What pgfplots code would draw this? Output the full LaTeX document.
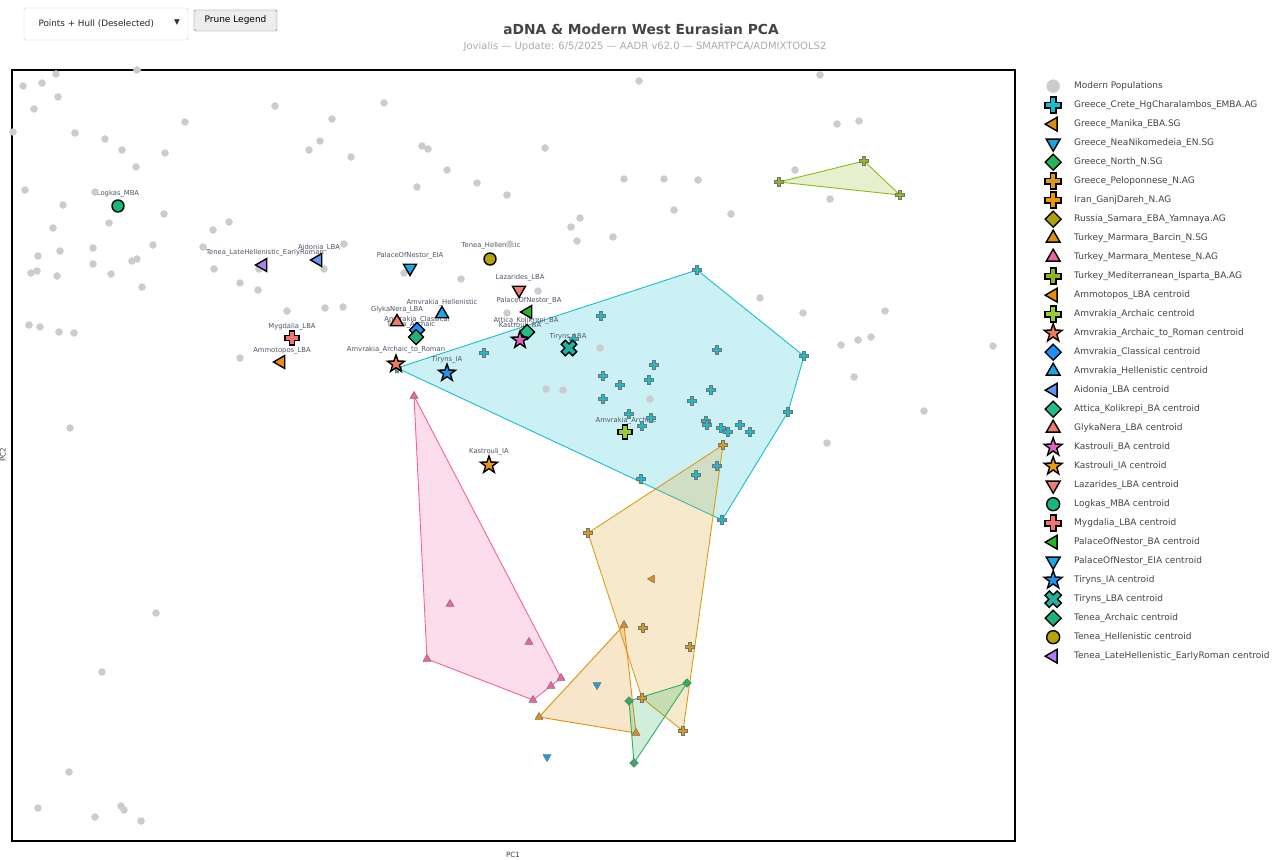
\documentclass[border=0pt]{standalone}
\usepackage{pgfplots}
\pgfplotsset{compat=1.18}
\usepackage{fontspec}
\setmainfont{DejaVu Sans}

\definecolor{cgray}{HTML}{CCCCCC}
\definecolor{ccrete}{HTML}{17BECF}
\definecolor{cmanika}{HTML}{E0900F}
\definecolor{cnea}{HTML}{1AA3DC}
\definecolor{cnorth}{HTML}{27B35A}
\definecolor{cpelo}{HTML}{DA9C18}
\definecolor{ciran}{HTML}{EE960B}
\definecolor{csamara}{HTML}{ADA10A}
\definecolor{cbarcin}{HTML}{E08C10}
\definecolor{cmentese}{HTML}{F0649E}
\definecolor{cisparta}{HTML}{8DB81E}
\definecolor{cammo}{HTML}{E8900C}
\definecolor{camvarch}{HTML}{9ACD32}
\definecolor{camvrom}{HTML}{F4795B}
\definecolor{camvclass}{HTML}{1E90FF}
\definecolor{camvhell}{HTML}{1AA7E8}
\definecolor{caidonia}{HTML}{6495ED}
\definecolor{cattica}{HTML}{1FBF86}
\definecolor{cglyka}{HTML}{F07A6A}
\definecolor{ckasba}{HTML}{E062C4}
\definecolor{ckasia}{HTML}{EB9A10}
\definecolor{clazar}{HTML}{F47B72}
\definecolor{clogkas}{HTML}{14B87F}
\definecolor{cmygd}{HTML}{F47272}
\definecolor{cnestba}{HTML}{28B428}
\definecolor{cnesteia}{HTML}{1AA7EC}
\definecolor{ctiria}{HTML}{1E96F0}
\definecolor{ctirlba}{HTML}{1FB29E}
\definecolor{cteneaarch}{HTML}{20B27A}
\definecolor{cteneahell}{HTML}{B9A208}
\definecolor{ctenealate}{HTML}{AE7FF0}
\definecolor{txt}{HTML}{444444}
\definecolor{subtxt}{HTML}{AAAAAA}
\definecolor{lblcol}{HTML}{4F5366}

\pgfdeclareplotmark{pplus}{%
  \pgfpathmoveto{\pgfqpoint{-0.36\pgfplotmarksize}{\pgfplotmarksize}}%
  \pgfpathlineto{\pgfqpoint{0.36\pgfplotmarksize}{\pgfplotmarksize}}%
  \pgfpathlineto{\pgfqpoint{0.36\pgfplotmarksize}{0.36\pgfplotmarksize}}%
  \pgfpathlineto{\pgfqpoint{\pgfplotmarksize}{0.36\pgfplotmarksize}}%
  \pgfpathlineto{\pgfqpoint{\pgfplotmarksize}{-0.36\pgfplotmarksize}}%
  \pgfpathlineto{\pgfqpoint{0.36\pgfplotmarksize}{-0.36\pgfplotmarksize}}%
  \pgfpathlineto{\pgfqpoint{0.36\pgfplotmarksize}{-\pgfplotmarksize}}%
  \pgfpathlineto{\pgfqpoint{-0.36\pgfplotmarksize}{-\pgfplotmarksize}}%
  \pgfpathlineto{\pgfqpoint{-0.36\pgfplotmarksize}{-0.36\pgfplotmarksize}}%
  \pgfpathlineto{\pgfqpoint{-\pgfplotmarksize}{-0.36\pgfplotmarksize}}%
  \pgfpathlineto{\pgfqpoint{-\pgfplotmarksize}{0.36\pgfplotmarksize}}%
  \pgfpathlineto{\pgfqpoint{-0.36\pgfplotmarksize}{0.36\pgfplotmarksize}}%
  \pgfpathclose\pgfusepathqfillstroke}
\pgfdeclareplotmark{pxmark}{%
  \pgfpathmoveto{\pgfqpoint{-0.9617\pgfplotmarksize}{0.4525\pgfplotmarksize}}%
  \pgfpathlineto{\pgfqpoint{-0.4525\pgfplotmarksize}{0.9617\pgfplotmarksize}}%
  \pgfpathlineto{\pgfqpoint{0pt}{0.5091\pgfplotmarksize}}%
  \pgfpathlineto{\pgfqpoint{0.4525\pgfplotmarksize}{0.9617\pgfplotmarksize}}%
  \pgfpathlineto{\pgfqpoint{0.9617\pgfplotmarksize}{0.4525\pgfplotmarksize}}%
  \pgfpathlineto{\pgfqpoint{0.5091\pgfplotmarksize}{0pt}}%
  \pgfpathlineto{\pgfqpoint{0.9617\pgfplotmarksize}{-0.4525\pgfplotmarksize}}%
  \pgfpathlineto{\pgfqpoint{0.4525\pgfplotmarksize}{-0.9617\pgfplotmarksize}}%
  \pgfpathlineto{\pgfqpoint{0pt}{-0.5091\pgfplotmarksize}}%
  \pgfpathlineto{\pgfqpoint{-0.4525\pgfplotmarksize}{-0.9617\pgfplotmarksize}}%
  \pgfpathlineto{\pgfqpoint{-0.9617\pgfplotmarksize}{-0.4525\pgfplotmarksize}}%
  \pgfpathlineto{\pgfqpoint{-0.5091\pgfplotmarksize}{0pt}}%
  \pgfpathclose\pgfusepathqfillstroke}
\pgfdeclareplotmark{pstar}{%
  \pgfpathmoveto{\pgfqpoint{0pt}{\pgfplotmarksize}}%
  \pgfpathlineto{\pgfqpoint{-0.2351\pgfplotmarksize}{0.3236\pgfplotmarksize}}%
  \pgfpathlineto{\pgfqpoint{-0.9511\pgfplotmarksize}{0.3090\pgfplotmarksize}}%
  \pgfpathlineto{\pgfqpoint{-0.3804\pgfplotmarksize}{-0.1236\pgfplotmarksize}}%
  \pgfpathlineto{\pgfqpoint{-0.5878\pgfplotmarksize}{-0.8090\pgfplotmarksize}}%
  \pgfpathlineto{\pgfqpoint{0pt}{-0.4\pgfplotmarksize}}%
  \pgfpathlineto{\pgfqpoint{0.5878\pgfplotmarksize}{-0.8090\pgfplotmarksize}}%
  \pgfpathlineto{\pgfqpoint{0.3804\pgfplotmarksize}{-0.1236\pgfplotmarksize}}%
  \pgfpathlineto{\pgfqpoint{0.9511\pgfplotmarksize}{0.3090\pgfplotmarksize}}%
  \pgfpathlineto{\pgfqpoint{0.2351\pgfplotmarksize}{0.3236\pgfplotmarksize}}%
  \pgfpathclose\pgfusepathqfillstroke}
\pgfdeclareplotmark{pdiam}{%
  \pgfpathmoveto{\pgfqpoint{0pt}{\pgfplotmarksize}}%
  \pgfpathlineto{\pgfqpoint{\pgfplotmarksize}{0pt}}%
  \pgfpathlineto{\pgfqpoint{0pt}{-\pgfplotmarksize}}%
  \pgfpathlineto{\pgfqpoint{-\pgfplotmarksize}{0pt}}%
  \pgfpathclose\pgfusepathqfillstroke}

\tikzset{
  cfill/.style={mark options={fill=#1,draw=black,line width=1.4pt}},
  cfillL/.style={mark options={rotate=90,fill=#1,draw=black,line width=1.4pt}},
  cfillD/.style={mark options={rotate=180,fill=#1,draw=black,line width=1.4pt}},
  sfill/.style={mark options={fill=#1,draw=black!55,line width=0.5pt}},
  sfillL/.style={mark options={rotate=90,fill=#1,draw=black!55,line width=0.5pt}},
  sfillD/.style={mark options={rotate=180,fill=#1,draw=black!55,line width=0.5pt}},
  hull/.style={draw=#1,fill=#1,fill opacity=0.22,line width=0.9pt},
  lbl/.style={font=\fontsize{6.8}{8}\selectfont,text=lblcol,inner sep=0pt},
}

\begin{document}
\begin{tikzpicture}[x=1pt,y=1pt]
\useasboundingbox (0,0) rectangle (1273,859);
% controls
\draw[draw=black!20,fill=white,rounded corners=2pt] (24,851) rectangle (188,819);
\node[anchor=west,font=\fontsize{8.8}{10}\selectfont,text=black!85] at (35,835) {Points + Hull (Deselected)};
\node[font=\fontsize{7.5}{8}\selectfont,text=black!80] at (177,836) {▼};
\draw[draw=black!55,fill=black!7,rounded corners=1.5pt] (194,849) rectangle (277,828);
\node[font=\fontsize{9}{10}\selectfont,text=black] at (235.5,838.5) {Prune Legend};
% titles
\node[font=\bfseries\fontsize{13.8}{16}\selectfont,text=txt] at (641,830) {aDNA \& Modern West Eurasian PCA};
\node[font=\fontsize{10}{12}\selectfont,text=subtxt] at (645,812) {Jovialis — Update: 6/5/2025 — AADR v62.0 — SMARTPCA/ADMIXTOOLS2};
\node[font=\fontsize{7.2}{9}\selectfont,text=txt] at (513,4) {PC1};
\node[font=\fontsize{7.2}{9}\selectfont,text=txt,rotate=90] at (3,404) {PC2};

\begin{axis}[
  at={(12pt,18pt)}, anchor=south west,
  scale only axis, width=1003pt, height=771pt,
  xmin=12, xmax=1015, ymin=70, ymax=841, y dir=reverse,
  xtick=\empty, ytick=\empty,
  axis line style={line width=1.8pt,black},
  legend cell align=left,
  legend image code/.code={\pgfpathrectangle{\pgfqpoint{0pt}{-9.5pt}}{\pgfqpoint{31pt}{19pt}}\pgfusepath{use as bounding box}\draw[overlay,only marks,#1] plot coordinates {(10pt,0pt)};},
  legend style={at={(1.0279,0.9916)}, anchor=north west, draw=none, fill=none, inner sep=0pt,
    font=\fontsize{9.0}{11}\selectfont, text=txt, row sep=0pt,
    nodes={inner sep=0pt, text height=7pt, text depth=2pt}},
]
% modern populations
\addplot[only marks, mark=*, mark size=3.5, mark options={fill=cgray,draw=cgray}, forget plot] coordinates {
(23,86)(42,83)(56,74)(137,70)(58,97)(34,109)(13,132)(75,133)(105,139)(122,150)(165,153)(136,167)(185,122)(275,106)(332,119)(384,103)(309,150)(320,141)(351,157)(422,146)(428,149)(447,170)(417,187)(477,183)(25,190)(95,192)(63,205)(109,223)(164,214)(53,228)(38,256)(60,251)(93,248)(153,245)(31,273)(37,271)(57,276)(93,264)(111,274)(132,261)(137,259)(142,287)(213,230)(229,222)(203,247)(214,269)(259,269)(240,283)(258,290)(324,269)(344,244)(287,311)(325,308)(343,307)(29,325)(40,327)(59,332)(74,333)(240,358)(70,428)(156,613)(102,672)(69,772)(38,808)(95,817)(121,806)(124,810)(141,821)(639,81)(820,75)(837,124)(859,121)(545,148)(624,179)(664,179)(698,180)(795,170)(830,199)(507,195)(580,218)(571,227)(577,241)(613,237)(674,210)(731,214)(510,244)(404,273)(461,279)(538,291)(507,313)(760,298)(803,313)(600,348)(563,390)(546,389)(650,399)(885,311)(841,345)(858,340)(871,337)(854,377)(993,346)(924,411)(827,443)
};
% hulls
\addplot[hull=ccrete, forget plot] coordinates {(397,368)(697,270)(804,356)(788,412)(722,520)(397,368)};
\addplot[hull=cmentese, forget plot] coordinates {(414,396)(561,678)(533,700)(427,659)(414,396)};
\addplot[hull=cpelo, forget plot] coordinates {(588,533)(723,445)(683,731)(642,698)(588,533)};
\addplot[hull=cbarcin, forget plot] coordinates {(539,717)(624,625)(636,733)(539,717)};
\addplot[hull=cnorth, forget plot] coordinates {(629,701)(687,683)(634,763)(629,701)};
\addplot[hull=cisparta, forget plot] coordinates {(779,182)(864,161)(900,195)(779,182)};
% samples
\addplot[only marks, mark=pplus, mark size=4.3, sfill=ccrete, forget plot] coordinates {
(397,368)(697,270)(804,356)(788,412)(722,520)(601,316)(574,339)(484,353)(717,350)(654,365)(603,376)(649,380)(620,385)(711,390)(603,399)(692,401)(629,414)(651,418)(642,426)(706,421)(707,425)(721,428)(728,432)(740,425)(750,432)(717,466)(696,475)(641,479)};
\addplot[only marks, mark=triangle*, mark size=4.6, sfill=cmentese, forget plot] coordinates {
(414,396)(450,604)(529,642)(427,659)(561,678)(551,686)(533,700)};
\addplot[only marks, mark=pplus, mark size=4.3, sfill=cpelo, forget plot] coordinates {
(588,533)(723,445)(683,731)(642,698)(643,628)(690,647)};
\addplot[only marks, mark=triangle*, mark size=4.6, sfill=cbarcin, forget plot] coordinates {
(539,717)(624,625)(636,733)};
\addplot[only marks, mark=pdiam, mark size=4.3, sfill=cnorth, forget plot] coordinates {
(629,701)(687,683)(634,763)};
\addplot[only marks, mark=pplus, mark size=4.3, sfill=cisparta, forget plot] coordinates {
(779,182)(864,161)(900,195)};
\addplot[only marks, mark=triangle*, mark size=4.6, sfillL=cmanika, forget plot] coordinates {(652,579)};
\addplot[only marks, mark=triangle*, mark size=4.6, sfillD=cnea, forget plot] coordinates {(597,685)(547,757)};
% centroids
\addplot[only marks, mark=triangle*, mark size=7.5, cfillL=cammo, forget plot] coordinates {(281,362)};
\addplot[only marks, mark=pplus, mark size=7, cfill=camvarch, forget plot] coordinates {(625,432)};
\addplot[only marks, mark=pstar, mark size=9, cfill=camvrom, forget plot] coordinates {(396,364)};
\addplot[only marks, mark=pdiam, mark size=7.5, cfill=camvclass, forget plot] coordinates {(417,330)};
\addplot[only marks, mark=triangle*, mark size=7.5, cfill=camvhell, forget plot] coordinates {(442,314)};
\addplot[only marks, mark=triangle*, mark size=7.5, cfillL=caidonia, forget plot] coordinates {(318,260)};
\addplot[only marks, mark=pdiam, mark size=7.5, cfill=cattica, forget plot] coordinates {(527,332)};
\addplot[only marks, mark=triangle*, mark size=7.5, cfill=cglyka, forget plot] coordinates {(397,322)};
\addplot[only marks, mark=pstar, mark size=9, cfill=ckasba, forget plot] coordinates {(520,340)};
\addplot[only marks, mark=pstar, mark size=9, cfill=ckasia, forget plot] coordinates {(489,465)};
\addplot[only marks, mark=triangle*, mark size=7.5, cfillD=clazar, forget plot] coordinates {(519,290)};
\addplot[only marks, mark=*, mark size=6, cfill=clogkas, forget plot] coordinates {(118,206)};
\addplot[only marks, mark=pplus, mark size=7, cfill=cmygd, forget plot] coordinates {(292,338)};
\addplot[only marks, mark=triangle*, mark size=7.5, cfillL=cnestba, forget plot] coordinates {(528,312)};
\addplot[only marks, mark=triangle*, mark size=7.5, cfillD=cnesteia, forget plot] coordinates {(410,268)};
\addplot[only marks, mark=pstar, mark size=9, cfill=ctiria, forget plot] coordinates {(447,373)};
\addplot[only marks, mark=pxmark, mark size=8, cfill=ctirlba, forget plot] coordinates {(569,348)};
\addplot[only marks, mark=pdiam, mark size=7.5, cfill=cteneaarch, forget plot] coordinates {(416,337)};
\addplot[only marks, mark=*, mark size=6, cfill=cteneahell, forget plot] coordinates {(490,259)};
\addplot[only marks, mark=triangle*, mark size=7.5, cfillL=ctenealate, forget plot] coordinates {(263,265)};
% labels
\node[lbl] at (axis cs:118,194) {Logkas\_MBA};
\node[lbl] at (axis cs:265,253) {Tenea\_LateHellenistic\_EarlyRoman};
\node[lbl] at (axis cs:319,248) {Aidonia\_LBA};
\node[lbl] at (axis cs:292,327) {Mygdalia\_LBA};
\node[lbl] at (axis cs:282,351) {Ammotopos\_LBA};
\node[lbl] at (axis cs:410,256) {PalaceOfNestor\_EIA};
\node[lbl] at (axis cs:491,246) {Tenea\_Hellenistic};
\node[lbl] at (axis cs:520,278) {Lazarides\_LBA};
\node[lbl] at (axis cs:529,301) {PalaceOfNestor\_BA};
\node[lbl] at (axis cs:442,303) {Amvrakia\_Hellenistic};
\node[lbl] at (axis cs:397,310) {GlykaNera\_LBA};
\node[lbl] at (axis cs:417,320) {Amvrakia\_Classical};
\node[lbl] at (axis cs:411,325) {Tenea\_Archaic};
\node[lbl] at (axis cs:526,321) {Attica\_Kolikrepi\_BA};
\node[lbl] at (axis cs:520,326) {Kastrouli\_BA};
\node[lbl] at (axis cs:568,337) {Tiryns\_LBA};
\node[lbl] at (axis cs:396,350) {Amvrakia\_Archaic\_to\_Roman};
\node[lbl] at (axis cs:447,360) {Tiryns\_IA};
\node[lbl] at (axis cs:489,452) {Kastrouli\_IA};
\node[lbl] at (axis cs:626,421) {Amvrakia\_Archaic};
% legend
\addlegendimage{mark=*, mark size=6.5, mark options={fill=cgray,draw=cgray}}\addlegendentry{Modern Populations}
\addlegendimage{mark=pplus, mark size=8, cfill=ccrete}\addlegendentry{Greece\_Crete\_HgCharalambos\_EMBA.AG}
\addlegendimage{mark=triangle*, mark size=8, cfillL=cmanika}\addlegendentry{Greece\_Manika\_EBA.SG}
\addlegendimage{mark=triangle*, mark size=8, cfillD=cnea}\addlegendentry{Greece\_NeaNikomedeia\_EN.SG}
\addlegendimage{mark=pdiam, mark size=8, cfill=cnorth}\addlegendentry{Greece\_North\_N.SG}
\addlegendimage{mark=pplus, mark size=8, cfill=cpelo}\addlegendentry{Greece\_Peloponnese\_N.AG}
\addlegendimage{mark=pplus, mark size=8, cfill=ciran}\addlegendentry{Iran\_GanjDareh\_N.AG}
\addlegendimage{mark=pdiam, mark size=8, cfill=csamara}\addlegendentry{Russia\_Samara\_EBA\_Yamnaya.AG}
\addlegendimage{mark=triangle*, mark size=8, cfill=cbarcin}\addlegendentry{Turkey\_Marmara\_Barcin\_N.SG}
\addlegendimage{mark=triangle*, mark size=8, cfill=cmentese}\addlegendentry{Turkey\_Marmara\_Mentese\_N.AG}
\addlegendimage{mark=pplus, mark size=8, cfill=cisparta}\addlegendentry{Turkey\_Mediterranean\_Isparta\_BA.AG}
\addlegendimage{mark=triangle*, mark size=8, cfillL=cammo}\addlegendentry{Ammotopos\_LBA centroid}
\addlegendimage{mark=pplus, mark size=8, cfill=camvarch}\addlegendentry{Amvrakia\_Archaic centroid}
\addlegendimage{mark=pstar, mark size=9.5, cfill=camvrom}\addlegendentry{Amvrakia\_Archaic\_to\_Roman centroid}
\addlegendimage{mark=pdiam, mark size=8, cfill=camvclass}\addlegendentry{Amvrakia\_Classical centroid}
\addlegendimage{mark=triangle*, mark size=8, cfill=camvhell}\addlegendentry{Amvrakia\_Hellenistic centroid}
\addlegendimage{mark=triangle*, mark size=8, cfillL=caidonia}\addlegendentry{Aidonia\_LBA centroid}
\addlegendimage{mark=pdiam, mark size=8, cfill=cattica}\addlegendentry{Attica\_Kolikrepi\_BA centroid}
\addlegendimage{mark=triangle*, mark size=8, cfill=cglyka}\addlegendentry{GlykaNera\_LBA centroid}
\addlegendimage{mark=pstar, mark size=9.5, cfill=ckasba}\addlegendentry{Kastrouli\_BA centroid}
\addlegendimage{mark=pstar, mark size=9.5, cfill=ckasia}\addlegendentry{Kastrouli\_IA centroid}
\addlegendimage{mark=triangle*, mark size=8, cfillD=clazar}\addlegendentry{Lazarides\_LBA centroid}
\addlegendimage{mark=*, mark size=6.5, cfill=clogkas}\addlegendentry{Logkas\_MBA centroid}
\addlegendimage{mark=pplus, mark size=8, cfill=cmygd}\addlegendentry{Mygdalia\_LBA centroid}
\addlegendimage{mark=triangle*, mark size=8, cfillL=cnestba}\addlegendentry{PalaceOfNestor\_BA centroid}
\addlegendimage{mark=triangle*, mark size=8, cfillD=cnesteia}\addlegendentry{PalaceOfNestor\_EIA centroid}
\addlegendimage{mark=pstar, mark size=9.5, cfill=ctiria}\addlegendentry{Tiryns\_IA centroid}
\addlegendimage{mark=pxmark, mark size=8.5, cfill=ctirlba}\addlegendentry{Tiryns\_LBA centroid}
\addlegendimage{mark=pdiam, mark size=8, cfill=cteneaarch}\addlegendentry{Tenea\_Archaic centroid}
\addlegendimage{mark=*, mark size=6.5, cfill=cteneahell}\addlegendentry{Tenea\_Hellenistic centroid}
\addlegendimage{mark=triangle*, mark size=8, cfillL=ctenealate}\addlegendentry{Tenea\_LateHellenistic\_EarlyRoman centroid}
\end{axis}
\end{tikzpicture}
\end{document}
